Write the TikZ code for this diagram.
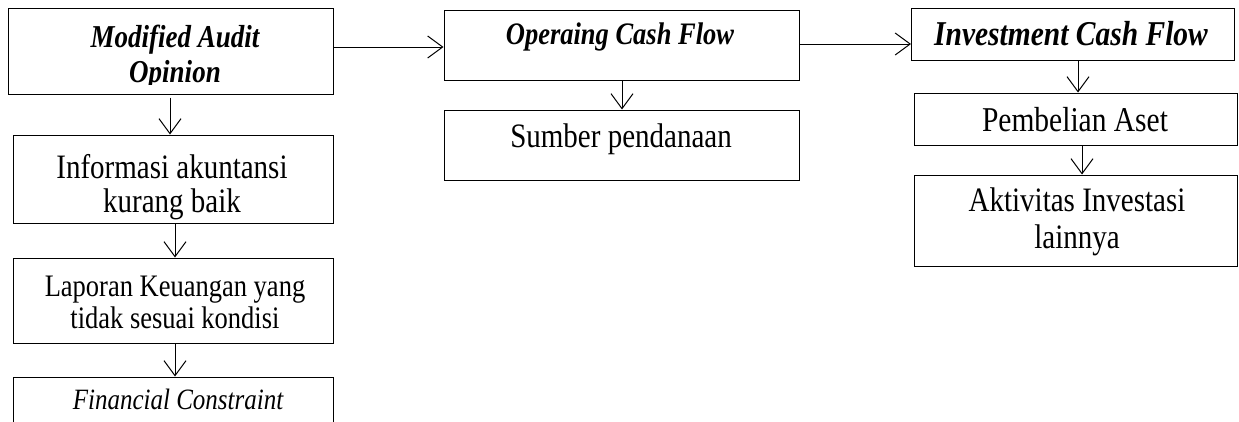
\documentclass[tikz,border=0pt]{standalone}
\usepackage{fontspec}
\setmainfont{Liberation Serif}
\usetikzlibrary{arrows.meta}
\tikzset{
  box/.style={draw, line width=1pt, inner sep=0pt, anchor=center},
  txt/.style={inner sep=0pt, anchor=base, align=center},
  arr/.style={line width=1pt, -{Straight Barb[length=15pt,width=22pt,line width=1pt]}},
}
\newcommand\fs[2]{\scalebox{1}[1.18]{\fontsize{#1}{#1}\selectfont #2}}
\begin{document}
\begin{tikzpicture}[x=1pt,y=-1pt]
\useasboundingbox (0,0) rectangle (1239,421);
\clip (0,0) rectangle (1239,421);
% boxes
\node[box, minimum width=325pt, minimum height=86pt] (A) at (170.5,51) {};
\node[box, minimum width=355pt, minimum height=70pt] (B) at (621.5,45) {};
\node[box, minimum width=355pt, minimum height=70pt] (C) at (621.5,145) {};
\node[box, minimum width=323pt, minimum height=52pt] (D) at (1073,34) {};
\node[box, minimum width=323pt, minimum height=52pt] (E) at (1075.5,119) {};
\node[box, minimum width=323pt, minimum height=91pt] (F) at (1075.5,220.5) {};
\node[box, minimum width=320pt, minimum height=88pt] (G) at (173,179) {};
\node[box, minimum width=320pt, minimum height=85pt] (H) at (173,300.5) {};
\node[box, minimum width=320pt, minimum height=73pt] (I) at (173,413.5) {};
% texts
\begin{scope}
\clip (A.north west) rectangle ([yshift=10pt]A.south east);
\node[txt] (tA1) at (175,47) {\fs{27}{\bfseries\itshape Modified Audit}};
\node[txt] (tA2) at (175,82) {\fs{27}{\bfseries\itshape Opinion}};
\end{scope}
\node[txt] (tB) at (620,44) {\fs{26.5}{\bfseries\itshape Operaing Cash Flow}};
\node[txt] (tC) at (621,147) {\fs{29}{Sumber pendanaan}};
\node[txt] (tD) at (1071,45) {\fs{29.5}{\bfseries\itshape Investment Cash Flow}};
\node[txt] (tE) at (1075,131) {\fs{29.5}{Pembelian Aset}};
\node[txt] (tF1) at (1077,211) {\fs{29}{Aktivitas Investasi}};
\node[txt] (tF2) at (1077,248) {\fs{29}{lainnya}};
\begin{scope}
\clip (G.north west) rectangle ([yshift=3pt]G.south east);
\node[txt] (tG1) at (172,178) {\fs{29}{Informasi akuntansi}};
\node[txt] (tG2) at (172,212) {\fs{29}{kurang baik}};
\end{scope}
\node[txt] (tH1) at (175,296) {\fs{26.5}{Laporan Keuangan yang}};
\node[txt] (tH2) at (175,328) {\fs{26.5}{tidak sesuai kondisi}};
\node[txt] (tI) at (178,409) {\fs{25}{\itshape Financial Constraint}};
% arrows
\draw[arr] (A.east |- 0,47) -- (B.west |- 0,47);
\draw[arr] (B.east |- 0,44) -- (D.west |- 0,44);
\draw[arr] (A.south -| 170,0) ++(0,3) -- (G.north -| 170,0);
\draw[arr] (G.south -| 175,0) -- (H.north -| 175,0);
\draw[arr] (H.south -| 175,0) -- (I.north -| 175,0);
\draw[arr] (B.south -| 622,0) -- (C.north -| 622,0);
\draw[arr] (D.south -| 1078,0) -- (E.north -| 1078,0);
\draw[arr] (E.south -| 1082,0) -- (F.north -| 1082,0);
\end{tikzpicture}
\end{document}
